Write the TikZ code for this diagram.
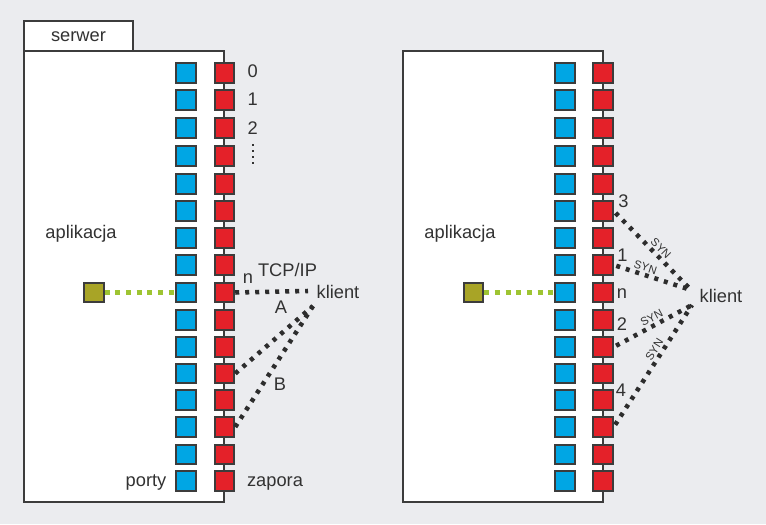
\documentclass[tikz,border=0pt]{standalone}
\usepackage{fontspec}
\setmainfont{Liberation Sans}
\usepackage{tikz}
\usetikzlibrary{positioning}

\definecolor{bgcol}{RGB}{235,236,239}
\definecolor{portblue}{RGB}{0,166,228}
\definecolor{wallred}{RGB}{228,33,41}
\definecolor{appolive}{RGB}{168,164,38}
\definecolor{linkgreen}{RGB}{158,196,50}
\definecolor{edgegray}{RGB}{60,60,60}
\definecolor{dotdark}{RGB}{45,45,45}
\definecolor{txtgray}{RGB}{50,50,50}

\tikzset{
  sq/.style={rectangle, draw=edgegray, line width=1.5pt, minimum size=14.6pt, inner sep=0pt},
  port/.style={sq, fill=portblue},
  wall/.style={sq, fill=wallred},
  app/.style={sq, fill=appolive},
  box/.style={draw=edgegray, line width=1.5pt, fill=white},
  lbl/.style={text=txtgray, font=\fontsize{13.7}{16}\selectfont, inner sep=0pt, anchor=base},
  syn/.style={text=txtgray, font=\fontsize{8.5}{9}\selectfont, inner sep=1pt},
  conn/.style={dotdark, line width=3.4pt, dash pattern=on 3pt off 4.5pt},
  link/.style={linkgreen, line width=3.8pt, dash pattern=on 3.8pt off 4.2pt},
}

\begin{document}
\begin{tikzpicture}[x=0.75pt, y=-0.75pt]

% Hintergrund
\fill[bgcol] (0,0) rectangle (766,524);
\useasboundingbox (0,0) rectangle (766,524);

% Server links
\draw[box] (24,21) rectangle (133,51);
\node[lbl] (srv) at (78.5,41.7) {serwer};
\draw[box] (24,51) rectangle (224,502);

% Server rechts
\draw[box] (403,51) rectangle (603,502);

% Ports und Zapora
\foreach \y [count=\i from 0] in {73,100,128,156,184,211,238,265,292.5,320,347,373.5,400,427,454.5,481} {
  \node[port] (lb\i) at (186,\y) {};
  \node[wall] (lr\i) at (224.5,\y) {};
  \node[port] (rb\i) at (565,\y) {};
  \node[wall] (rr\i) at (603,\y) {};
}

% Anwendung
\node[app] (lapp) at (94,292.5) {};
\node[app] (rapp) at (473.5,292.5) {};
\draw[link] (lapp.east) -- (lb8.west);
\draw[link] (rapp.east) -- (rb8.west);

% Beschriftungen links
\node[lbl] (lapl) at (81,238.3) {aplikacja};
\node[lbl] (lpor) at (146,486.7) {porty};
\node[lbl] (lzap) at (275,486.7) {zapora};
\node[lbl] (n0) at (252.7,77.5) {0};
\node[lbl] (n1) at (252.7,106) {1};
\node[lbl] (n2) at (252.7,135) {2};
\draw[txtgray, line width=1.5pt, dash pattern=on 1.5pt off 3pt] (252.7,144) -- (252.7,164);
\node[lbl] (ln) at (248,283) {n};
\node[lbl] (tcp) at (287.5,276.7) {TCP/IP};
\node[lbl] (lkl) at (338,298.3) {klient};
\node[lbl] (la) at (281,313.3) {A};
\node[lbl] (lbB) at (280,390.7) {B};

% Verbindungen links
\coordinate (lk0) at (308,291);
\coordinate (lk1) at (313,306);
\draw[conn] (lr8.east) -- (lk0);
\draw[conn] (lr11.east) -- (lk1);
\draw[conn] (lr13.east) -- (lk1);

% Beschriftungen rechts
\node[lbl] (rapl) at (460,238.3) {aplikacja};
\node[lbl] (rkl) at (721,302.7) {klient};
\node[lbl] (r3) at (623.5,207.3) {3};
\node[lbl] (r1) at (622.5,261.7) {1};
\node[lbl] (rn) at (622,298.3) {n};
\node[lbl] (r2) at (622,330) {2};
\node[lbl] (r4) at (621,396.7) {4};

% Verbindungen rechts (SYN)
\coordinate (rk1) at (691,290);
\coordinate (rk2) at (692,305);
\draw[conn, shorten <=2pt] (rr5.east) -- (rk1) node[syn, pos=0.54, above, sloped] {SYN};
\draw[conn, shorten <=2pt] (rr7.east) -- (rk1) node[syn, pos=0.38, above, sloped] {SYN};
\draw[conn, shorten <=2pt] (rr10.east) -- (rk2) node[syn, pos=0.53, above, sloped] {SYN};
\draw[conn, shorten <=2pt] (rr13.east) -- (rk2) node[syn, pos=0.6, above, sloped] {SYN};

\end{tikzpicture}
\end{document}
